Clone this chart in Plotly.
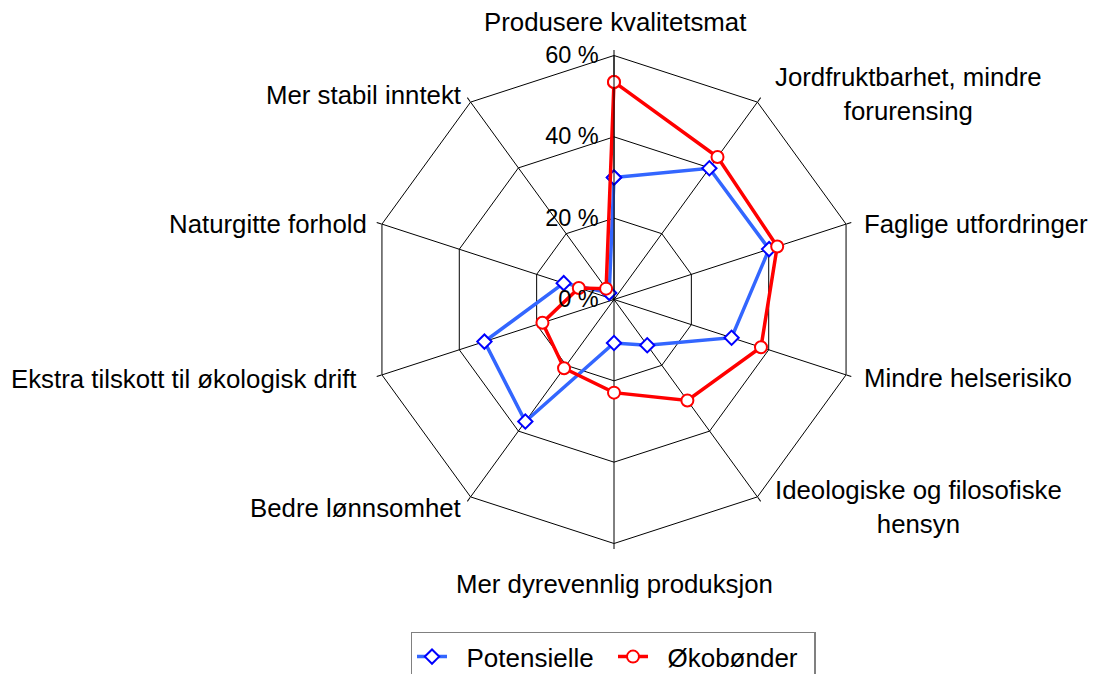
import plotly.graph_objects as go

categories = [
    "Produsere kvalitetsmat",
    "Jordfruktbarhet, mindre<br>forurensing",
    "Faglige utfordringer",
    "Mindre helserisiko",
    "Ideologiske og filosofiske<br>hensyn",
    "Mer dyrevennlig produksjon",
    "Bedre lønnsomhet",
    "Ekstra tilskott til økologisk drift",
    "Naturgitte forhold",
    "Mer stabil inntekt",
]
series_names = ["Potensielle", "Økobønder"]
potensielle = [30.0, 39.9, 40.1, 30.4, 13.9, 10.7, 37.1, 33.5, 13.0, 2.0]
okobonder = [53.5, 43.3, 42.2, 38.0, 30.7, 22.9, 20.9, 18.5, 9.1, 3.3]
radial_ticks = [0, 20, 40, 60]
radial_ticktext = ["0 %\u00a0", "20 %\u00a0", "40 %\u00a0", "60 %\u00a0"]

W, H = 1100, 674
OFF = 8  # page body margin of the html page
NB = "\u00a0"


def px(x):
    return (x - OFF) / W


def py(y):
    return 1 - (y - OFF) / H


def closed(v):
    return list(v) + [v[0]]


FONT = "Liberation Sans, Arial, sans-serif"

# label placement (layout only): x, y in page pixels, anchor
label_layout = [
    (614.5, 22.5, "center"),
    (908, 94, "center"),
    (862, 224, "left"),
    (862, 377.5, "left"),
    (918, 507, "center"),
    (614, 584, "center"),
    (463, 507.5, "right"),
    (358, 379, "right"),
    (369, 224, "right"),
    (463, 94.7, "right"),
]

fig = go.Figure()
fig.add_trace(go.Scatterpolar(
    r=closed(potensielle), theta=closed(categories), name=NB * 2 + series_names[0],
    mode="lines+markers",
    line=dict(color="#3366FF", width=3.5),
    marker=dict(symbol="diamond", size=11, color="white",
                line=dict(color="#0000FF", width=2)),
))
fig.add_trace(go.Scatterpolar(
    r=closed(okobonder), theta=closed(categories), name=NB * 2 + series_names[1],
    mode="lines+markers",
    line=dict(color="#FF0000", width=3.5),
    marker=dict(symbol="circle", size=12, color="white",
                line=dict(color="#FF0000", width=2)),
))

annotations = []
for text, (x, y, anc) in zip(categories, label_layout):
    annotations.append(dict(
        text=text, x=px(x), y=py(y), xref="paper", yref="paper",
        xanchor=anc, yanchor="middle", align="center", showarrow=False,
        font=dict(size=25.8, family=FONT, color="black"),
    ))

cx, cy, R = 614, 299.5, 244
fig.update_layout(
    width=W, height=H,
    margin=dict(l=0, r=0, t=0, b=0),
    paper_bgcolor="white",
    font=dict(family=FONT, size=26, color="black"),
    annotations=annotations,
    polar=dict(
        domain=dict(x=[px(cx - R), px(cx + R)], y=[py(cy + R), py(cy - R)]),
        bgcolor="white",
        gridshape="linear",
        angularaxis=dict(
            direction="clockwise", rotation=90,
            categoryorder="array", categoryarray=categories,
            showline=True, linecolor="black", linewidth=1,
            gridcolor="black", gridwidth=1,
            ticks="outside", ticklen=5, tickcolor="black", tickwidth=1,
            showticklabels=False,
        ),
        radialaxis=dict(
            range=[0, 60], tickvals=radial_ticks, ticktext=radial_ticktext,
            angle=90, side="counterclockwise", tickangle=90,
            showline=True, linecolor="black", linewidth=1,
            gridcolor="black", gridwidth=1, ticks="",
            tickfont=dict(size=23.5, family=FONT),
        ),
    ),
    showlegend=True,
    legend=dict(
        orientation="h", x=px(613), xanchor="center", y=py(631.7), yanchor="top",
        bordercolor="#808080", borderwidth=1.5, bgcolor="white",
        font=dict(size=26, family=FONT),
        entrywidth=156,
    ),
)

fig.write_html("out.html")
